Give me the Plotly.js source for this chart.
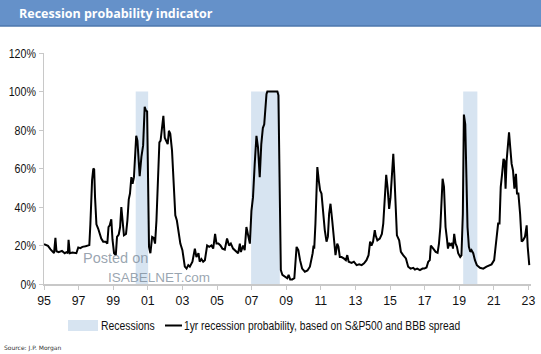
<!DOCTYPE html>
<html>
<head>
<meta charset="utf-8">
<script src="https://cdn.plot.ly/plotly-3.0.1.min.js"></script>
<style>html,body{margin:0;padding:0;background:#fff;}#chart{width:541px;height:354px;}</style>
</head>
<body>
<div id="chart"></div>
<script>
// Recession shading periods (in chart year units, as drawn)
const recessionStart = [2000.30, 2006.97, 2019.23];
const recessionEnd   = [2001.02, 2008.63, 2020.05];
const recessionTop   = 100;

// 1yr recession probability (%)
const probYears = [
1995.00,1995.12,1995.23,1995.38,1995.50,1995.58,1995.66,1995.72,1995.85,1995.95,
1996.04,1996.20,1996.30,1996.38,1996.42,1996.49,1996.65,1996.87,1996.98,1997.10,
1997.22,1997.40,1997.54,1997.62,1997.68,1997.78,1997.85,1997.90,1997.95,1998.03,
1998.13,1998.22,1998.31,1998.42,1998.55,1998.66,1998.73,1998.80,1998.89,1998.96,
1999.05,1999.15,1999.22,1999.32,1999.40,1999.47,1999.55,1999.62,1999.74,1999.82,
1999.90,1999.97,2000.05,2000.12,2000.20,2000.27,2000.33,2000.40,2000.53,2000.63,
2000.73,2000.82,2000.88,2000.96,2001.02,2001.07,2001.15,2001.25,2001.34,2001.42,
2001.50,2001.59,2001.67,2001.74,2001.84,2001.90,2001.98,2002.07,2002.15,2002.22,
2002.30,2002.40,2002.50,2002.59,2002.68,2002.78,2002.88,2003.00,2003.14,2003.24,
2003.34,2003.43,2003.58,2003.72,2003.81,2003.93,2004.00,2004.10,2004.20,2004.30,
2004.43,2004.55,2004.68,2004.78,2004.89,2004.97,2005.08,2005.20,2005.31,2005.45,
2005.58,2005.70,2005.80,2005.93,2006.12,2006.22,2006.32,2006.38,2006.51,2006.60,
2006.70,2006.80,2006.90,2006.99,2007.08,2007.18,2007.28,2007.37,2007.47,2007.56,
2007.65,2007.73,2007.80,2007.86,2007.91,2008.20,2008.49,2008.55,2008.61,2008.69,
2008.78,2008.92,2009.06,2009.14,2009.23,2009.35,2009.47,2009.60,2009.70,2009.80,
2009.92,2010.08,2010.23,2010.37,2010.47,2010.53,2010.58,2010.62,2010.69,2010.75,
2010.80,2010.88,2010.96,2011.04,2011.14,2011.23,2011.33,2011.41,2011.48,2011.56,
2011.66,2011.75,2011.85,2011.95,2012.02,2012.10,2012.20,2012.33,2012.45,2012.53,
2012.61,2012.78,2012.91,2013.07,2013.22,2013.36,2013.50,2013.64,2013.76,2013.85,
2013.93,2014.02,2014.12,2014.17,2014.27,2014.41,2014.53,2014.61,2014.68,2014.78,
2014.86,2014.95,2015.03,2015.11,2015.19,2015.25,2015.33,2015.40,2015.53,2015.63,
2015.76,2015.92,2016.05,2016.19,2016.34,2016.44,2016.57,2016.73,2016.88,2016.98,
2017.11,2017.21,2017.30,2017.36,2017.50,2017.64,2017.75,2017.83,2017.91,2017.98,
2018.04,2018.12,2018.21,2018.29,2018.35,2018.42,2018.50,2018.58,2018.64,2018.71,
2018.79,2018.87,2018.94,2019.06,2019.13,2019.21,2019.27,2019.35,2019.41,2019.48,
2019.56,2019.64,2019.71,2019.81,2019.91,2020.02,2020.20,2020.39,2020.58,2020.72,
2020.87,2021.02,2021.11,2021.19,2021.25,2021.33,2021.40,2021.48,2021.56,2021.62,
2021.68,2021.74,2021.80,2021.88,2021.95,2022.03,2022.11,2022.19,2022.28,2022.34,
2022.42,2022.52,2022.61,2022.69,2022.80,2022.90,2022.96,2023.05
];
const probValues = [
20.7,20,19.8,18,16.5,16,24,17,16.5,17,
17.2,16,16.5,16,23,16,16.3,16,19,18.6,
19.3,19.6,19.8,20.2,31,54,60,59.5,45,31,
28.8,26,23.6,22,22,21,29.6,30.5,33.6,23,
16,15,24.5,25.7,29.6,40,29.6,25.3,26,33,
44,47,55.5,52,55.5,67.6,77,74.5,56,66,
72,92,90.3,89.6,54,19.3,16,24.5,24,21,
33,57,73.6,74.5,83,87.4,76,74.5,72.7,79.6,
78,69.3,48.6,35.7,33,26,21,17.6,9,8,
9.8,9,11.6,18.4,14,16,11.6,13,11.6,12.4,
20,19.3,20,18.4,26,21,21,20,18.4,17.9,
23.6,20,21,18.4,16.7,16,21,16.6,20,17.6,
29.6,25,21,38,45,62.4,77,71,55.5,72.7,
81,83,91.7,98.6,100,100,100,98,54,7.2,
4.7,3.8,3,4.7,2.4,2.4,3,19.3,17.6,12.4,
8,6.4,7,9,13.3,16,20,18.4,31.4,54,
60.7,54,48.6,47,36.5,28,22,24.6,36.5,41.7,
33,22.7,15,21,19.3,14,14,13.3,12.4,15,
11.6,11,11.6,9.8,10.2,9.8,10.7,12.4,15,22,
20,22,28,25.3,22.7,23.6,26,31.4,41.7,56.7,
50,39,45,59,67.6,57,36.5,25.3,22.7,16.7,
15,13.3,9,8,8.4,7.5,8,7.2,8,8,
8.6,11.6,12.4,20,18.4,16.7,16.2,21,29.6,45,
54.7,50.5,29.6,23.6,18.4,21.4,19.8,21.4,18.4,26,
21,19.3,16,14,14.8,36.5,88,83,54,29.6,
19.3,16.7,17.6,16,12.4,9.8,8.4,8,9,9.8,
10.2,12.4,19.3,26,31.4,31.4,50.3,57.2,65,64,
49.5,64,69.3,78.8,71,62.4,59,49.5,57.2,47,
47,36.5,22,22.7,24.5,30.5,19.3,9.8
];

const tickYears = [1995,1997,1999,2001,2003,2005,2007,2009,2011,2013,2015,2017,2019,2021,2023];
const tickLabels = ['95','97','99','01','03','05','07','09','11','13','15','17','19','21','23'];
const yTicks = [0,20,40,60,80,100,120];
const yTickLabels = ['0%','20%','40%','60%','80%','100%','120%'];

const titleText = 'Recession probability indicator';
const recessionLabel = 'Recessions';
const probLabel = '1yr recession probability, based on S&P500 and BBB spread';
const sourceText = 'Source: J.P. Morgan';

const W = 541, H = 354, ML = 44, MR = 10, MT = 53, MB = 70;
const PW = W - ML - MR, PH = H - MT - MB;
const px = x => (x - ML) / PW;
const py = y => (MT + PH - y) / PH;

const shadeColor = '#d7e4f1';
const sans = "'Liberation Sans', Arial, sans-serif";

const shapes = [];
// title band
shapes.push({type:'rect', xref:'paper', yref:'paper', x0:px(0), x1:px(W), y0:py(26), y1:py(0),
  fillcolor:'#6591c9', line:{width:0}, layer:'below'});
shapes.push({type:'line', xref:'paper', yref:'paper', x0:px(0), x1:px(W), y0:py(26), y1:py(26),
  line:{color:'#4d77ad', width:1.5}});
// recessions
for (let i = 0; i < recessionStart.length; i++) {
  shapes.push({type:'rect', xref:'x', yref:'y', x0:recessionStart[i], x1:recessionEnd[i],
    y0:0, y1:recessionTop, fillcolor:shadeColor, line:{width:0}, layer:'below'});
}
// legend symbols
shapes.push({type:'rect', xref:'paper', yref:'paper', x0:px(68), x1:px(98), y0:py(331), y1:py(320),
  fillcolor:shadeColor, line:{width:0}});
shapes.push({type:'line', xref:'paper', yref:'paper', x0:px(165), x1:px(182), y0:py(325.5), y1:py(325.5),
  line:{color:'#000', width:2}});

const annotations = [
  {xref:'paper', yref:'paper', x:px(100), y:py(325.5), xanchor:'left', yanchor:'middle', align:'left', showarrow:false,
   text:recessionLabel, font:{family:sans, size:13, color:'#111'}, borderpad:0},
  {xref:'paper', yref:'paper', x:px(183), y:py(325.5), xanchor:'left', yanchor:'middle', align:'left', showarrow:false,
   text:probLabel, font:{family:sans, size:13, color:'#111'}, borderpad:0},
  {xref:'paper', yref:'paper', x:px(2), y:py(348), xanchor:'left', yanchor:'middle', align:'left', showarrow:false,
   text:sourceText, font:{family:'DejaVu Sans, sans-serif', size:6, color:'#333'}},
  {xref:'paper', yref:'paper', x:px(82), y:py(258), xanchor:'left', yanchor:'middle', align:'left', showarrow:false,
   text:'Posted on', font:{family:sans, size:14.5, color:'rgba(120,135,150,0.75)'}, borderpad:0},
  {xref:'paper', yref:'paper', x:px(107), y:py(277), xanchor:'left', yanchor:'middle', align:'left', showarrow:false,
   text:'ISABELNET.com', font:{family:sans, size:13.5, color:'rgba(120,135,150,0.75)'}, borderpad:0}
];

const data = [{
  type:'scatter', mode:'lines', x:probYears, y:probValues, name:probLabel,
  line:{color:'#000', width:2}, showlegend:false, hoverinfo:'skip'
}];

const layout = {
  width:W, height:H,
  margin:{l:ML, r:MR, t:MT, b:MB, pad:0},
  paper_bgcolor:'#fff', plot_bgcolor:'#fff',
  showlegend:false,
  title:{text:titleText, x:19/W, xanchor:'left', xref:'container', y:1-14/H, yref:'container', yanchor:'middle',
    font:{family:'Open Sans, sans-serif', size:12.5, color:'#fff', weight:'bold'}},
  xaxis:{range:[1995, 2023.15], tickvals:tickYears, ticktext:tickLabels, showgrid:false, zeroline:false,
    showline:true, linecolor:'#c8c8c8', linewidth:1.5, ticks:'outside', ticklen:4, tickcolor:'#c8c8c8',
    tickfont:{family:sans, size:13, color:'#111'}, fixedrange:true},
  yaxis:{range:[0,120], tickvals:yTicks, ticktext:yTickLabels, showgrid:false, zeroline:false,
    showline:true, linecolor:'#c8c8c8', linewidth:1.5, ticks:'outside', ticklen:4, tickcolor:'#c8c8c8',
    tickfont:{family:sans, size:13, color:'#111'}, fixedrange:true},
  shapes:shapes, annotations:annotations
};

// narrow the text horizontally to mimic the condensed face of the original
function condense(sel, factor) {
  document.querySelectorAll(sel).forEach(t => {
    const len = t.getComputedTextLength();
    if (len > 0) {
      t.setAttribute('textLength', (len * factor).toFixed(2));
      t.setAttribute('lengthAdjust', 'spacingAndGlyphs');
    }
  });
}

Plotly.newPlot('chart', data, layout, {displayModeBar:false, staticPlot:true}).then(() => {
  condense('.ytick text', 0.82);
  condense('.xtick text', 0.95);
  const ann = document.querySelectorAll('.annotation-text');
  if (ann[0]) { const l = ann[0].getComputedTextLength(); ann[0].setAttribute('textLength', (l*0.8).toFixed(2)); ann[0].setAttribute('lengthAdjust','spacingAndGlyphs'); }
  if (ann[1]) { const l = ann[1].getComputedTextLength(); ann[1].setAttribute('textLength', (l*0.79).toFixed(2)); ann[1].setAttribute('lengthAdjust','spacingAndGlyphs'); }
});
</script>
</body>
</html>
